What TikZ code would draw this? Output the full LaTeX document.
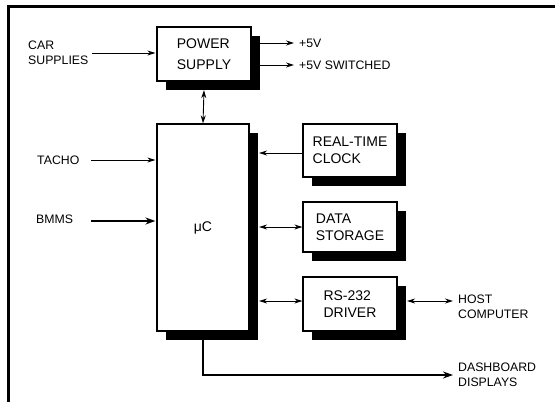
\documentclass[tikz,border=0pt]{standalone}
\usepackage{fontspec}
\setmainfont{Liberation Sans}
\usetikzlibrary{arrows.meta,shadows,calc}
\begin{document}
\begin{tikzpicture}[x=1pt,y=-1pt,
  blk/.style={draw,line width=1.2pt,fill=white,inner sep=0pt,align=left,
    font=\fontsize{14}{17}\selectfont,
    drop shadow={shadow xshift=8.5pt,shadow yshift=-8.5pt,fill=black,opacity=1}},
  lbl/.style={inner sep=0pt,align=left,font=\fontsize{12.3}{15}\selectfont},
  conn/.style={line width=0.9pt},
  arr/.style={conn,-{Stealth[length=8pt,width=5pt]}},
  darr/.style={conn,{Stealth[length=8pt,width=5pt]}-{Stealth[length=8pt,width=5pt]}},
  tarr/.style={line width=1.6pt,-{Stealth[length=10pt,width=7pt]}}]
\useasboundingbox (0,0) rectangle (555,402);
% frame
\draw[line width=2.6pt] (8.5,402) -- (8.5,6.5) -- (556,6.5);
% blocks
\node[blk,minimum width=94pt,minimum height=54pt,font=\fontsize{14}{21}\selectfont] (ps) at (204,54) {POWER\\SUPPLY};
\node[blk,minimum width=92pt,minimum height=207pt] (uc) at (203,227.5) {μC};
\node[blk,minimum width=94pt,minimum height=53pt] (rtc) at (350,150.5) {REAL-TIME\\CLOCK};
\node[blk,minimum width=94pt,minimum height=50pt] (ds) at (350,227) {DATA\\STORAGE};
\node[blk,minimum width=94pt,minimum height=54pt] (rs) at (350,304) {RS-232\\DRIVER};
% labels
\node[lbl,anchor=west] (car) at (28,53) {CAR\\SUPPLIES};
\node[lbl,anchor=west] (v5) at (299,43) {+5V};
\node[lbl,anchor=west] (v5s) at (299,65) {+5V SWITCHED};
\node[lbl,anchor=west] (tacho) at (37,160) {TACHO};
\node[lbl,anchor=west] (bmms) at (36,219) {BMMS};
\node[lbl,anchor=north west] (host) at (458,295) {HOST\\COMPUTER};
\node[lbl,anchor=west] (dash) at (458,375) {DASHBOARD\\DISPLAYS};
\coordinate (carS) at (92,53);
\coordinate (tachoS) at (91,160);
\coordinate (bmmsS) at (91,221);
\coordinate (bend) at (203,375);
% connectors
\draw[arr] (carS) -- ([xshift=-1pt]carS -| ps.west);
\draw[arr] ([shift={(8.5pt,11pt)}]ps.east) -- ([xshift=-5pt]v5.west);
\draw[arr] ([shift={(8.5pt,-11pt)}]ps.east) -- ([xshift=-5pt]v5s.west);
\draw[darr] ([yshift=-8.5pt]ps.south) -- (uc.north);
\draw[arr] (tachoS) -- ([xshift=-1pt]tachoS -| uc.west);
\draw[tarr] (bmmsS) -- ([xshift=-1pt]bmmsS -| uc.west);
\draw[arr] ([yshift=-2.5pt]rtc.west) -- ([yshift=-2.5pt,xshift=9.5pt]rtc.west -| uc.east);
\draw[darr] (ds.west) -- ([xshift=9.5pt]ds.west -| uc.east);
\draw[darr] ([yshift=3pt]rs.west) -- ([yshift=3pt,xshift=9.5pt]rs.west -| uc.east);
\draw[darr] ([shift={(9.5pt,3pt)}]rs.east) -- ([shift={(-5pt,3pt)}]rs.east -| host.west);
\draw[tarr] ([yshift=-8.5pt]uc.south) -- (bend) -- ([xshift=-5pt]bend -| dash.west);
\end{tikzpicture}
\end{document}
